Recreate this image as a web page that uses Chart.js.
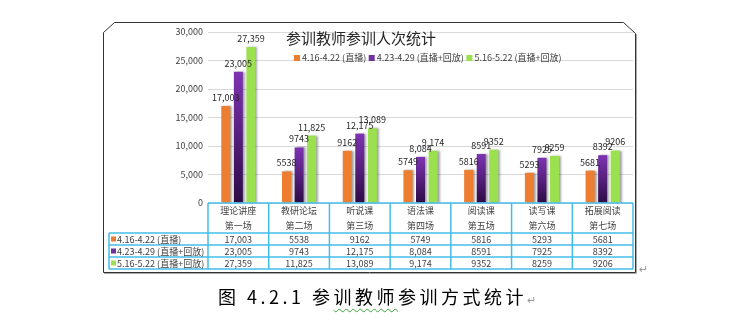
<!DOCTYPE html>
<html><head><meta charset="utf-8">
<script src="https://cdn.jsdelivr.net/npm/chart.js@4.4.0/dist/chart.umd.min.js"></script>
<style>
html,body{margin:0;padding:0;background:#fff;}
#wrap{position:relative;width:740px;height:329px;overflow:hidden;}
canvas{position:absolute;left:0;top:0;}
#cap{position:absolute;left:218px;top:285px;font-family:"Noto Sans CJK SC";font-size:18px;letter-spacing:3.5px;color:#000;white-space:nowrap;line-height:22px;}
#cap .wv{text-decoration:underline wavy #3aa83a 1px;text-underline-offset:4px;}
#cap .rt{color:#999;font-size:11px;letter-spacing:0;}
#rt2{position:absolute;left:639px;top:263px;color:#999;font-size:11px;font-family:"DejaVu Sans";}
</style></head><body>
<div id="wrap"><canvas id="c" width="740" height="329" style="width:740px;height:329px"></canvas>
<div id="cap">图 4.2.1 参<span class="wv">训教师</span>参训方式统计<span class="rt">↵</span></div>
<div id="rt2">↵</div>
</div>
<script>
const chartTitle = "参训教师参训人次统计";
const categories = ["理论讲座","教研论坛","听说课","语法课","阅读课","读写课","拓展阅读"];
const sessions = ["第一场","第二场","第三场","第四场","第五场","第六场","第七场"];
const seriesNames = ["4.16-4.22 (直播)","4.23-4.29 (直播+回放)","5.16-5.22 (直播+回放)"];
const live0416 = [17003,5538,9162,5749,5816,5293,5681];
const replay0423 = [23005,9743,12175,8084,8591,7925,8392];
const replay0516 = [27359,11825,13089,9174,9352,8259,9206];
const text0416 = ["17,003","5538","9162","5749","5816","5293","5681"];
const text0423 = ["23,005","9743","12,175","8,084","8591","7925","8392"];
const text0516 = ["27,359","11,825","13,089","9,174","9352","8259","9206"];
const yTicks = [0,5000,10000,15000,20000,25000,30000];

const seriesText = [text0416, text0423, text0516];
const colors = ["#ED7D31", "#7030A0", "#9BE04F"];
const FONT = '"Noto Sans CJK SC", "Noto Sans", sans-serif';
const textColor = "#404040";

function purpleGrad(ctx) {
  const chart = ctx.chart;
  if (!chart.chartArea || ctx.type !== 'data') return colors[1];
  const y = chart.scales.y;
  const top = y.getPixelForValue(ctx.raw);
  const bot = y.getPixelForValue(0);
  const g = chart.ctx.createLinearGradient(0, top, 0, bot);
  g.addColorStop(0, "#7E33B3");
  g.addColorStop(1, "#2C0B45");
  return g;
}

const framePlugin = {
  id: 'frame',
  beforeDraw(chart) {
    const c = chart.ctx;
    c.save();
    c.fillStyle = "#fff";
    c.fillRect(0, 0, chart.width, chart.height);
    c.beginPath();
    c.moveTo(103.5, 272.5);
    c.lineTo(103.5, 32.5);
    c.lineTo(114.5, 22.5);
    c.lineTo(623.5, 22.5);
    c.lineTo(635.5, 33.5);
    c.lineTo(635.5, 272.5);
    c.closePath();
    c.strokeStyle = "#333";
    c.lineWidth = 1;
    c.stroke();
    c.beginPath();
    c.moveTo(636.5, 34);
    c.lineTo(636.5, 273.5);
    c.lineTo(104, 273.5);
    c.strokeStyle = "#aaa";
    c.stroke();
    c.restore();
  }
};

const shadowPlugin = {
  id: 'barShadow',
  beforeDatasetsDraw(chart) {
    const c = chart.ctx;
    c.save();
    c.shadowColor = "rgba(0,0,0,0.35)";
    c.shadowOffsetX = 2;
    c.shadowOffsetY = 0;
    c.shadowBlur = 2;
  },
  afterDatasetsDraw(chart) {
    chart.ctx.restore();
    const c = chart.ctx;
    c.save();
    c.font = "9px " + FONT;
    c.fillStyle = "#262626";
    c.textAlign = "center";
    c.textBaseline = "bottom";
    chart.data.datasets.forEach((ds, di) => {
      const meta = chart.getDatasetMeta(di);
      meta.data.forEach((el, i) => {
        c.fillText(seriesText[di][i], el.x, el.y - 4);
      });
    });
    c.restore();
  }
};

const overlayPlugin = {
  id: 'overlay',
  afterDraw(chart) {
    const c = chart.ctx;
    const ca = chart.chartArea;
    const xs = chart.scales.x;
    c.save();
    // title
    c.font = "15px " + FONT;
    c.fillStyle = "#262626";
    c.textAlign = "left";
    c.textBaseline = "middle";
    c.fillText(chartTitle, 286, 38);
    // legend
    c.font = "9px " + FONT;
    let lx = 294;
    const ly = 58;
    seriesNames.forEach((name, i) => {
      c.fillStyle = colors[i];
      c.fillRect(lx, ly - 3, 6, 6);
      c.fillStyle = textColor;
      c.fillText(name, lx + 8, ly);
      lx += 8 + c.measureText(name).width + 2.5;
    });
    // table
    const n = categories.length;
    const cw = xs.getPixelForValue(1) - xs.getPixelForValue(0);
    const bounds = [];
    for (let i = 0; i <= n; i++) bounds.push(xs.getPixelForValue(0) - cw / 2 + i * cw);
    const top = ca.bottom;
    const hb = top + 30;
    const rh = 12;
    const leftX = 109;
    const rowsY = [hb, hb + rh, hb + 2 * rh, hb + 3 * rh];
    c.strokeStyle = "#45BDEA";
    c.lineWidth = 1.5;
    c.beginPath();
    c.moveTo(bounds[0], top); c.lineTo(bounds[n], top);
    rowsY.forEach(y => { c.moveTo(leftX, y); c.lineTo(bounds[n], y); });
    bounds.forEach(x => { c.moveTo(x, top); c.lineTo(x, rowsY[3]); });
    c.moveTo(leftX, hb); c.lineTo(leftX, rowsY[3]);
    c.stroke();
    c.fillStyle = textColor;
    c.textAlign = "center";
    c.font = "9px " + FONT;
    for (let i = 0; i < n; i++) {
      const cx = (bounds[i] + bounds[i + 1]) / 2;
      c.fillText(categories[i], cx, top + 8);
      c.fillText(sessions[i], cx, top + 23);
      for (let s = 0; s < 3; s++) {
        c.fillText(seriesText[s][i], cx, rowsY[s] + rh / 2 + 0.5);
      }
    }
    c.textAlign = "left";
    for (let s = 0; s < 3; s++) {
      const my = rowsY[s] + rh / 2;
      c.fillStyle = colors[s];
      c.fillRect(leftX + 2, my - 2.5, 5, 5);
      c.fillStyle = textColor;
      c.fillText(seriesNames[s], leftX + 8, my + 0.5);
    }
    c.restore();
  }
};

new Chart(document.getElementById('c'), {
  type: 'bar',
  data: {
    labels: categories,
    datasets: [
      { label: seriesNames[0], data: live0416, backgroundColor: colors[0] },
      { label: seriesNames[1], data: replay0423, backgroundColor: purpleGrad },
      { label: seriesNames[2], data: replay0516, backgroundColor: colors[2] }
    ]
  },
  options: {
    responsive: false,
    animation: false,
    events: [],
    datasets: { bar: { categoryPercentage: 0.62, barPercentage: 0.72 } },
    layout: { padding: { left: 0, right: 107, top: 32, bottom: 126 } },
    plugins: { legend: { display: false }, tooltip: { enabled: false }, title: { display: false } },
    scales: {
      x: { type: 'category', display: false, offset: true, grid: { display: false } },
      y: {
        min: 0, max: 30000,
        afterFit(s) { s.width = 208; },
        afterBuildTicks(s) { s.ticks = yTicks.map(v => ({ value: v })); },
        border: { display: false },
        grid: { color: "#D9D9D9", drawTicks: false, lineWidth: 1 },
        ticks: {
          padding: 5,
          color: textColor,
          font: { size: 9, family: FONT },
          callback: v => v.toLocaleString('en-US')
        }
      }
    }
  },
  plugins: [framePlugin, shadowPlugin, overlayPlugin]
});
</script>
</body></html>
